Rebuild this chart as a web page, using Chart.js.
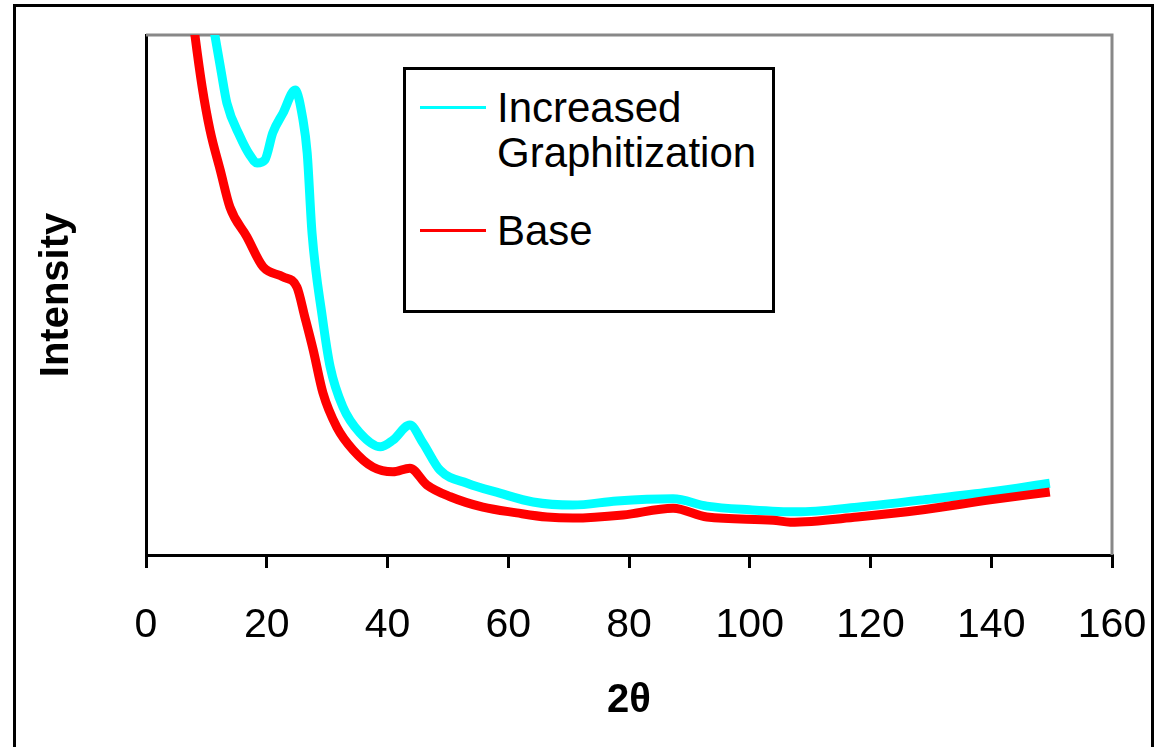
<!DOCTYPE html>
<html lang="en">
<head>
    <meta charset="UTF-8">
    <title>XRD - Intensity vs 2theta</title>
    <script src="https://cdn.jsdelivr.net/npm/chart.js@4.4.0/dist/chart.umd.min.js"></script>
    <style>
        body { margin: 0; width: 1161px; height: 747px; overflow: hidden; background: #fff;
               font-family: "Liberation Sans", Arial, sans-serif; }
        #frame { position: absolute; left: 13px; top: 4px; width: 1141px; height: 800px;
                 box-sizing: border-box; border: 3px solid #000; }
        #chartCanvas { position: absolute; left: 0; top: 0; }
        #legend { position: absolute; left: 403px; top: 67px; width: 372px; height: 246px;
                  box-sizing: border-box; border: 3px solid #000; background: #fff;
                  padding-top: 15px; }
        .item { display: flex; align-items: flex-start; margin-bottom: 33px; }
        .swatch { width: 66px; height: 3px; margin: 21px 11px 0 14px; flex: none; }
        .label { font-size: 42px; line-height: 45px; color: #000; white-space: pre; }
    </style>
</head>
<body>
<div id="frame"></div>
<canvas id="chartCanvas" width="1161" height="747"></canvas>
<div id="legend"></div>

<script>
    // values, y in % of plot height
    const graphX = [10.4, 11.4, 12.4, 13.4, 15.6, 17.2, 18.4, 19.7, 21.0, 22.7, 24.7, 26.0, 26.7, 27.5,
        29.2, 30.5, 32.6, 35.4, 38.8, 40.9, 43.7, 45.9, 48.7, 53.2, 58.6, 64.1, 70.7, 78.0,
        87.3, 92.9, 100.0, 107.8, 117.8, 128.7, 139.8, 149.7];
    const graphY = [106.5, 100, 93.3, 86.9, 80.4, 76.9, 75.4, 76.0, 81.2, 85.0, 89.4, 83.7, 77.3, 61.9,
        45.8, 36.2, 28.5, 23.5, 20.8, 22.1, 25.0, 21.5, 16.3, 13.8, 11.9, 10.2, 9.6, 10.4,
        10.8, 9.4, 8.7, 8.3, 9.2, 10.6, 12.1, 13.8];

    const baseX = [7.5, 8.1, 9.3, 10.6, 12.3, 13.9, 16.7, 19.4, 22.7, 25.0, 26.3, 27.7, 29.3, 31.6,
        34.3, 37.6, 40.9, 43.7, 46.5, 50.4, 55.8, 61.4, 66.4, 70.7, 79.0, 87.3, 92.9, 103.9,
        106.7, 117.8, 128.7, 139.8, 149.7];
    const baseY = [105.8, 100, 90, 81.7, 74.0, 66.9, 61.2, 55.4, 53.5, 51.5, 45.8, 39.4, 31.2, 24.6,
        20.2, 16.9, 16.0, 16.7, 13.5, 11.2, 9.2, 8.1, 7.3, 7.1, 7.7, 9.0, 7.3, 6.7,
        6.3, 7.3, 8.7, 10.6, 12.1];

    const xTicks = [0, 20, 40, 60, 80, 100, 120, 140, 160];

    const seriesNames = ['Increased Graphitization', 'Base'];
    const seriesColors = ['#00FFFF', '#FF0000'];

    function toPoints(xs, ys) {
        return xs.map((x, i) => ({x: x, y: ys[i]}));
    }

    // gray top/right edges of the plot area
    const plotFrame = {
        id: 'plotFrame',
        beforeDatasetsDraw(chart) {
            const a = chart.chartArea, c = chart.ctx;
            c.save();
            c.strokeStyle = '#888';
            c.lineWidth = 3;
            c.beginPath();
            c.moveTo(a.left, a.top);
            c.lineTo(a.right, a.top);
            c.lineTo(a.right, a.bottom);
            c.stroke();
            c.restore();
        }
    };

    const ctx = document.getElementById('chartCanvas').getContext('2d');
    const font = '"Liberation Sans", Arial, sans-serif';

    const myChart = new Chart(ctx, {
        type: 'line',
        data: {
            datasets: [{
                label: seriesNames[0],
                data: toPoints(graphX, graphY),
                borderColor: seriesColors[0],
                backgroundColor: seriesColors[0],
                borderWidth: 9,
                pointRadius: 0,
                cubicInterpolationMode: 'monotone',
                clip: 0,
                order: 1
            }, {
                label: seriesNames[1],
                data: toPoints(baseX, baseY),
                borderColor: seriesColors[1],
                backgroundColor: seriesColors[1],
                borderWidth: 9,
                pointRadius: 0,
                cubicInterpolationMode: 'monotone',
                clip: 0,
                order: 0
            }]
        },
        options: {
            responsive: false,
            animation: false,
            layout: { padding: { top: 35, right: 49, left: 0, bottom: 0 } },
            plugins: { legend: { display: false }, tooltip: { enabled: false } },
            scales: {
                x: {
                    type: 'linear',
                    min: 0,
                    max: 160,
                    afterBuildTicks: (axis) => { axis.ticks = xTicks.map(v => ({value: v})); },
                    afterFit: (axis) => {
                        axis.height = 192;
                        axis.paddingLeft = 0;
                        axis.paddingRight = 0;
                    },
                    ticks: { color: '#000', font: { family: font, size: 41 }, padding: 33,
                             maxRotation: 0, autoSkip: false },
                    grid: { display: true, drawOnChartArea: false, drawTicks: true, tickLength: 13,
                            color: '#000', lineWidth: 3 },
                    border: { display: true, color: '#000', width: 3 },
                    title: { display: true, text: '2θ', color: '#000',
                             font: { family: font, size: 40, weight: 'bold', lineHeight: 1 },
                             padding: { top: 0, bottom: 26 } }
                },
                y: {
                    min: 0,
                    max: 100,
                    afterFit: (axis) => { axis.width = 146; },
                    ticks: { display: false },
                    grid: { display: false, drawTicks: false },
                    border: { display: true, color: '#000', width: 3 },
                    title: { display: true, text: 'Intensity', color: '#000',
                             font: { family: font, size: 40, weight: 'bold', lineHeight: 1 },
                             padding: { top: 37, bottom: 0 } }
                }
            }
        },
        plugins: [plotFrame]
    });

    // legend box, listed in dataset order
    const legendBox = document.getElementById('legend');
    myChart.data.datasets.forEach(ds => {
        const item = document.createElement('div');
        item.className = 'item';
        const sw = document.createElement('div');
        sw.className = 'swatch';
        sw.style.background = ds.borderColor;
        const txt = document.createElement('div');
        txt.className = 'label';
        txt.textContent = ds.label.replace(' ', '\n');
        item.appendChild(sw);
        item.appendChild(txt);
        legendBox.appendChild(item);
    });
</script>
</body>
</html>
